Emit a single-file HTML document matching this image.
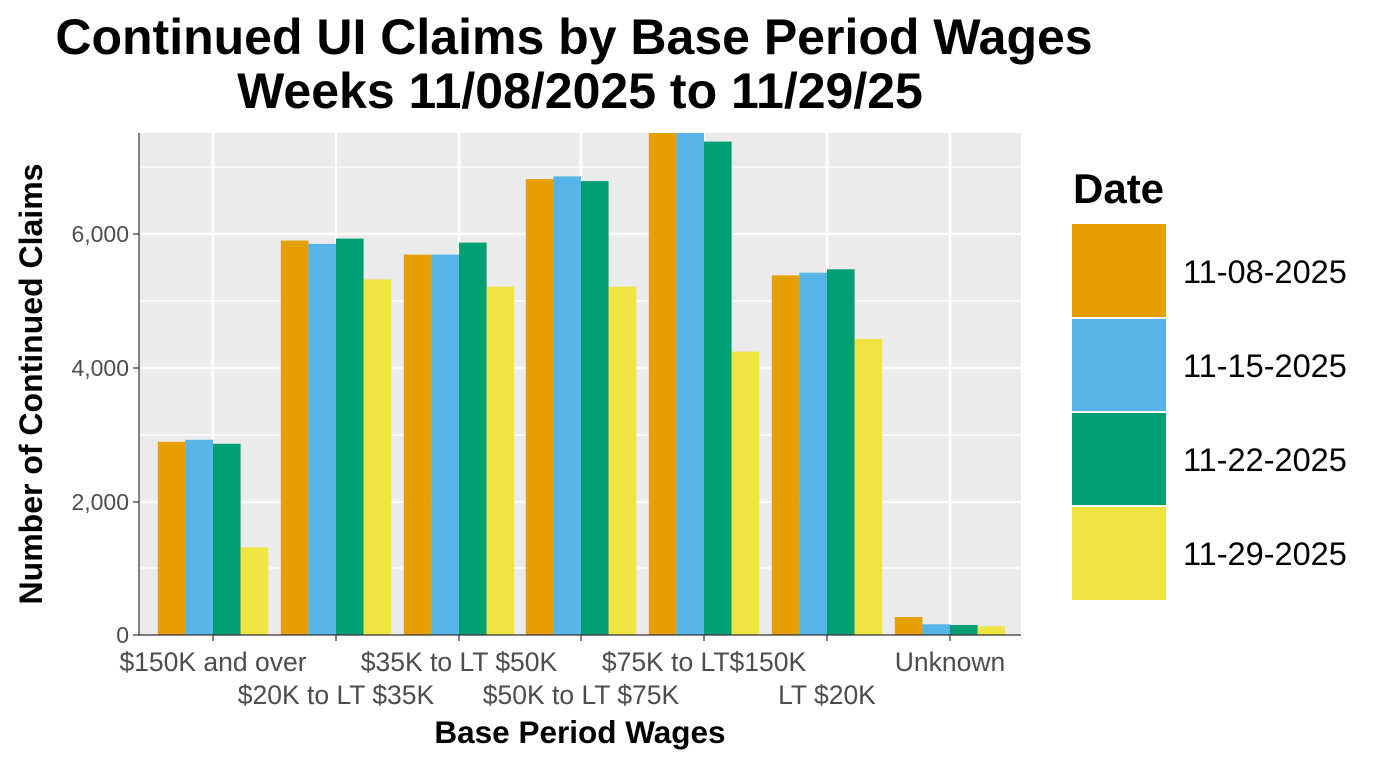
<!DOCTYPE html>
<html><head><style>body{margin:0;background:#fff}svg{display:block}</style></head><body>
<svg width="1383" height="766" viewBox="0 0 1383 766" xmlns="http://www.w3.org/2000/svg" font-family="Liberation Sans, Arial, sans-serif">
<rect width="1383" height="766" fill="#fff"/>
<text x="574" y="54" text-anchor="middle" font-size="50" font-weight="bold">Continued UI Claims by Base Period Wages</text>
<text x="580" y="108" text-anchor="middle" font-size="50" font-weight="bold">Weeks 11/08/2025 to 11/29/25</text>
<rect x="139" y="133" width="882" height="502" fill="#ebebeb"/>
<g stroke="#fff" stroke-width="1.2">
<line x1="139" x2="1021" y1="568" y2="568"/><line x1="139" x2="1021" y1="435" y2="435"/><line x1="139" x2="1021" y1="301" y2="301"/><line x1="139" x2="1021" y1="167" y2="167"/>
</g>
<g stroke="#fff" stroke-width="2.4">
<line x1="139" x2="1021" y1="502" y2="502"/><line x1="139" x2="1021" y1="368" y2="368"/><line x1="139" x2="1021" y1="234" y2="234"/>
<line x1="213" x2="213" y1="133" y2="635"/><line x1="336" x2="336" y1="133" y2="635"/><line x1="459" x2="459" y1="133" y2="635"/><line x1="581" x2="581" y1="133" y2="635"/><line x1="704" x2="704" y1="133" y2="635"/><line x1="827" x2="827" y1="133" y2="635"/><line x1="950" x2="950" y1="133" y2="635"/>
</g>
<g fill="#E69F00">
<rect x="157.8" y="441.8" width="27.6" height="193.2"/><rect x="280.8" y="240.6" width="27.6" height="394.4"/><rect x="403.8" y="254.6" width="27.6" height="380.4"/><rect x="525.8" y="179.1" width="27.6" height="455.9"/><rect x="648.8" y="133" width="27.6" height="502"/><rect x="771.8" y="275.3" width="27.6" height="359.7"/><rect x="894.8" y="617" width="27.6" height="18"/>
</g>
<g fill="#56B4E9">
<rect x="185.4" y="439.8" width="27.6" height="195.2"/><rect x="308.4" y="243.9" width="27.6" height="391.1"/><rect x="431.4" y="254.6" width="27.6" height="380.4"/><rect x="553.4" y="176.4" width="27.6" height="458.6"/><rect x="676.4" y="133" width="27.6" height="502"/><rect x="799.4" y="272.7" width="27.6" height="362.3"/><rect x="922.4" y="624.3" width="27.6" height="10.7"/>
</g>
<g fill="#009E73">
<rect x="213" y="443.8" width="27.6" height="191.2"/><rect x="336" y="238.6" width="27.6" height="396.4"/><rect x="459" y="242.6" width="27.6" height="392.4"/><rect x="581" y="181.1" width="27.6" height="453.9"/><rect x="704" y="141.6" width="27.6" height="493.4"/><rect x="827" y="269.3" width="27.6" height="365.7"/><rect x="950" y="625" width="27.6" height="10"/>
</g>
<g fill="#F0E442">
<rect x="240.6" y="547.4" width="27.6" height="87.6"/><rect x="363.6" y="279.4" width="27.6" height="355.6"/><rect x="486.6" y="286.7" width="27.6" height="348.3"/><rect x="608.6" y="286.7" width="27.6" height="348.3"/><rect x="731.6" y="351.6" width="27.6" height="283.4"/><rect x="854.6" y="338.9" width="27.6" height="296.1"/><rect x="977.6" y="626.3" width="27.6" height="8.7"/>
</g>
<g stroke="#333" stroke-width="1.2">
<line x1="139" x2="139" y1="133" y2="635"/><line x1="139" x2="1021" y1="635" y2="635"/>
<line x1="133" x2="139" y1="635" y2="635"/><line x1="133" x2="139" y1="502" y2="502"/><line x1="133" x2="139" y1="368" y2="368"/><line x1="133" x2="139" y1="234" y2="234"/>
<line x1="213" x2="213" y1="635" y2="641"/><line x1="336" x2="336" y1="635" y2="641"/><line x1="459" x2="459" y1="635" y2="641"/><line x1="581" x2="581" y1="635" y2="641"/><line x1="704" x2="704" y1="635" y2="641"/><line x1="827" x2="827" y1="635" y2="641"/><line x1="950" x2="950" y1="635" y2="641"/>
</g>
<g font-size="23" fill="#4d4d4d" text-anchor="end">
<text x="129" y="643">0</text><text x="129" y="510">2,000</text><text x="129" y="376">4,000</text><text x="129" y="242">6,000</text>
</g>
<g font-size="26.5" fill="#4d4d4d" text-anchor="middle">
<text x="213" y="671">$150K and over</text><text x="336" y="704">$20K to LT $35K</text><text x="459" y="671">$35K to LT $50K</text><text x="581" y="704">$50K to LT $75K</text><text x="704" y="671">$75K to LT$150K</text><text x="827" y="704">LT $20K</text><text x="950" y="671">Unknown</text>
</g>
<text x="580" y="743" text-anchor="middle" font-size="31.5" font-weight="bold">Base Period Wages</text>
<text transform="translate(42,384) rotate(-90)" text-anchor="middle" font-size="32" font-weight="bold">Number of Continued Claims</text>
<text x="1073" y="203" font-size="42" font-weight="bold">Date</text>
<rect x="1072" y="224" width="94" height="94" fill="#E69F00"/>
<rect x="1072" y="318" width="94" height="94" fill="#56B4E9"/>
<rect x="1072" y="412" width="94" height="94" fill="#009E73"/>
<rect x="1072" y="506" width="94" height="94" fill="#F0E442"/>
<g stroke="#fff" stroke-width="2"><line x1="1072" x2="1166" y1="318" y2="318"/><line x1="1072" x2="1166" y1="412" y2="412"/><line x1="1072" x2="1166" y1="506" y2="506"/></g>
<g font-size="32.5"><text x="1183" y="283">11-08-2025</text><text x="1183" y="377">11-15-2025</text><text x="1183" y="471">11-22-2025</text><text x="1183" y="565">11-29-2025</text></g>
</svg>
</body></html>
